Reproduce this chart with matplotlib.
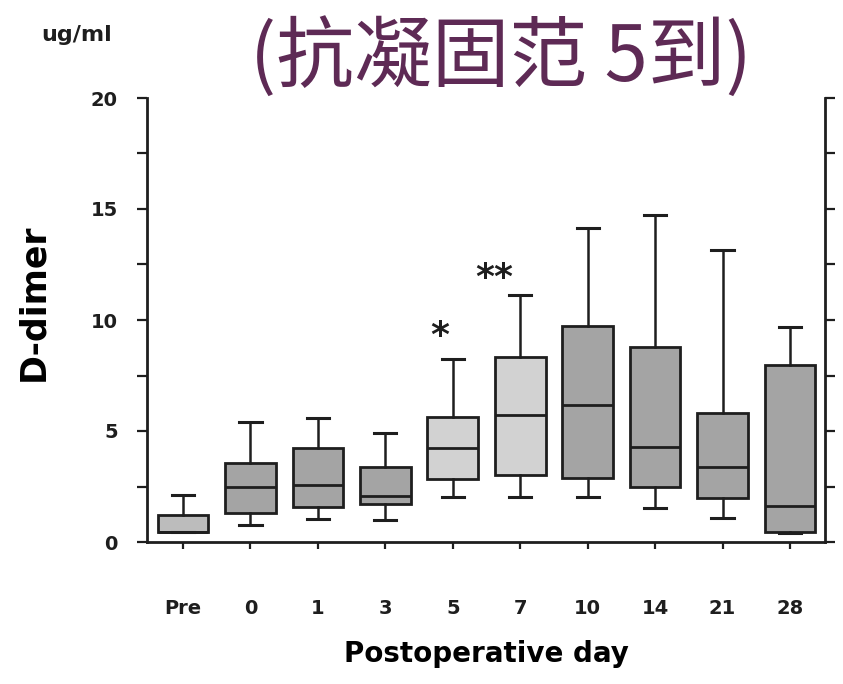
import matplotlib
matplotlib.use("Agg")
import matplotlib.pyplot as plt

# ---- data ----
days = ["Pre", "0", "1", "3", "5", "7", "10", "14", "21", "28"]
whisker_low = [0.45, 0.77, 1.02, 0.99, 2.01, 2.04, 2.04, 1.52, 1.07, 0.40]
q1 = [0.45, 1.29, 1.59, 1.71, 2.82, 3.02, 2.87, 2.46, 1.97, 0.46]
median = [0.45, 2.46, 2.57, 2.07, 4.22, 5.72, 6.17, 4.29, 3.39, 1.62]
q3 = [1.22, 3.57, 4.22, 3.36, 5.65, 8.35, 9.73, 8.80, 5.80, 7.97]
whisker_high = [2.12, 5.42, 5.57, 4.92, 8.23, 11.13, 14.13, 14.73, 13.15, 9.70]
shade = ["mid", "dark", "dark", "dark", "light", "light", "dark", "dark", "dark", "dark"]
signif = {"5": ("*", 9.3), "7": ("**", 11.9)}
yticks_major = [0, 5, 10, 15, 20]

plt.rcParams['font.family'] = ['DejaVu Sans']

fig = plt.figure(figsize=(8.43, 6.84), dpi=100)
ax = fig.add_axes([147/843, 1-542/684, (825-147)/843, (542-98)/684])

stats = []
for i, d in enumerate(days):
    stats.append(dict(label=d, whislo=whisker_low[i], q1=q1[i], med=median[i],
                      q3=q3[i], whishi=whisker_high[i], fliers=[]))

pos = list(range(len(days)))
ink = "#1e1e1e"
res = ax.bxp(stats, positions=pos, widths=0.75, capwidths=0.33, patch_artist=True,
             showfliers=False,
             boxprops=dict(edgecolor=ink, linewidth=2.0),
             medianprops=dict(color=ink, linewidth=2.0),
             whiskerprops=dict(color=ink, linewidth=1.8),
             capprops=dict(color=ink, linewidth=2.2))
colors = {"light": "#d2d2d2", "mid": "#bcbcbc", "dark": "#a4a4a4"}
for b, s in zip(res["boxes"], shade):
    b.set_facecolor(colors[s])

for d, (txt, yv) in signif.items():
    i = days.index(d)
    xoff = -0.2 if len(txt) == 1 else -0.38
    ax.text(i + xoff, yv, txt, ha="center", va="center", fontsize=26,
            fontweight="bold", color=ink)

ax.set_xlim(-0.534, 9.519)
ax.set_ylim(0, 20)
ax.set_yticks([v * 2.5 for v in range(9)])
ax.set_yticklabels([str(int(v * 2.5)) if (v * 2.5) in yticks_major else "" for v in range(9)],
                   fontweight="bold")
ax.set_xticks(pos)
ax.set_xticklabels(days, fontweight="bold")

ax.spines["top"].set_visible(False)
for s in ["left", "right", "bottom"]:
    ax.spines[s].set_linewidth(2.0)
    ax.spines[s].set_color(ink)
ax.tick_params(axis="y", which="both", direction="out", length=7, width=1.6,
               left=True, right=True, labelleft=True, labelright=False,
               labelsize=14, pad=14, colors=ink)
ax.tick_params(axis="x", direction="out", length=5, width=1.6,
               labelsize=14, pad=36, colors=ink)

ax.set_xlabel("Postoperative day", fontsize=20, fontweight="bold", labelpad=16)
ax.set_ylabel("D-dimer", fontsize=25, fontweight="bold")
ax.yaxis.set_label_coords(-0.143, 0.54)

fig.text(77/843, 1-35/684, "ug/ml", ha="center", va="center", fontsize=16,
         fontweight="bold", color=ink)
fig.text(250/843, 1-58/684, "(抗凝固范 5到)", ha="left", va="center", fontsize=56,
         style="italic", color="#5e2a55",
         family=["Noto Sans CJK SC", "DejaVu Sans"])

fig.savefig("out.png", dpi=100)
